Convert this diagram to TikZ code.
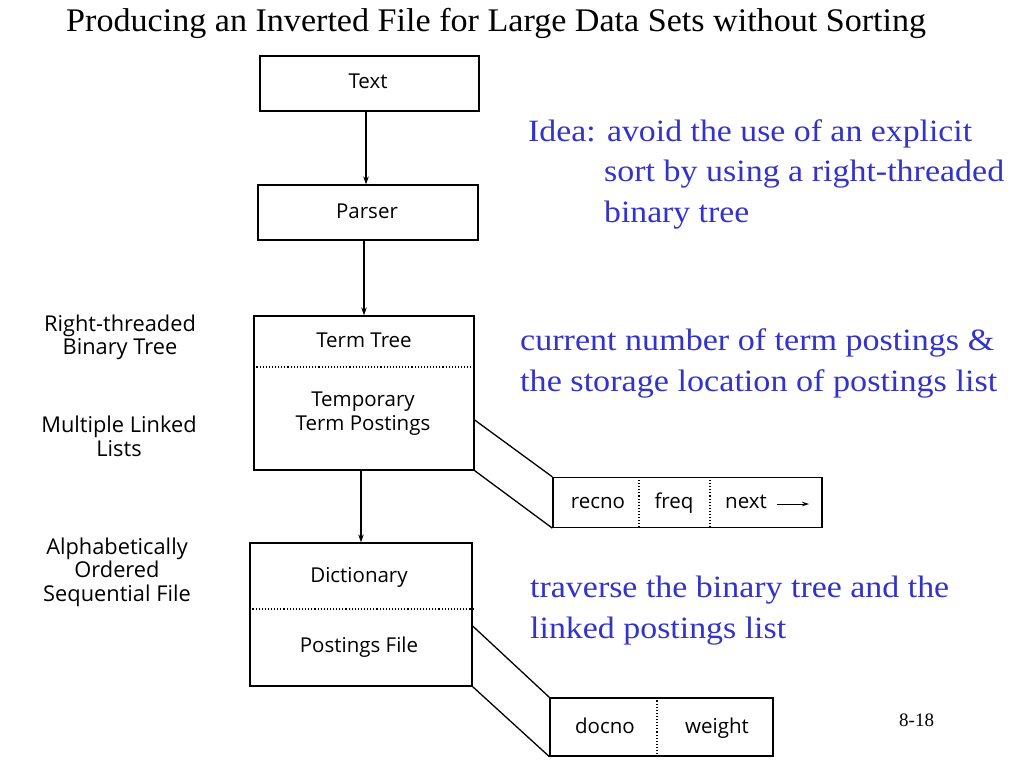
\documentclass[tikz,border=0pt]{standalone}
\usepackage{fontspec}
\usepackage{graphicx}
\setmainfont{Liberation Serif}
\newfontfamily\boxsans{Open Sans}
\usetikzlibrary{arrows.meta}
\definecolor{noteblue}{RGB}{51,51,204}
\newcommand{\notetext}[2]{\resizebox{#1pt}{\height}{\fontsize{31}{36}\selectfont #2}}
\tikzset{
  box/.style={draw, line width=1.3pt, rectangle, inner sep=0pt},
  lbl/.style={font=\boxsans\fontsize{20.5}{24}\selectfont, inner sep=0pt, align=center},
  cell/.style={font=\boxsans\fontsize{20.5}{24}\selectfont, inner sep=0pt, anchor=base},
  side/.style={font=\boxsans\fontsize{21.8}{23.5}\selectfont, inner sep=0pt, align=center},
  note/.style={text=noteblue, inner sep=0pt, anchor=base west},
  flow/.style={line width=1.1pt, -{Stealth[length=8pt,width=5.5pt]}},
  divider/.style={line width=1.1pt, dotted},
  proj/.style={line width=1.3pt}
}
\begin{document}
\begin{tikzpicture}[x=1pt,y=-1pt]
\useasboundingbox[fill=white] (0,0) rectangle (1024,768);

% title
\node[inner sep=0pt, anchor=base west] (title) at (66,32)
  {\resizebox{860pt}{\height}{\fontsize{33}{38}\selectfont Producing an Inverted File for Large Data Sets without Sorting}};

% main boxes
\node[box, minimum width=219pt, minimum height=55pt] (txt) at (369.5,83.5) {};
\node[lbl] (txtl) at (368,81) {Text};
\node[box, minimum width=220pt, minimum height=55pt] (par) at (368,212.5) {};
\node[lbl] (parl) at (367,211) {Parser};
\node[box, minimum width=220pt, minimum height=154pt] (tt) at (364,393) {};
\node[lbl] (ttl) at (364,340) {Term Tree};
\node[lbl] (tpl) at (363,414) {Temporary\\Term Postings};
\node[box, minimum width=222pt, minimum height=143pt] (dict) at (361,614.5) {};
\node[lbl] (dictl) at (359,577) {Dictionary};
\node[lbl] (pfl) at (359,647) {Postings File};

% record boxes
\node[box, minimum width=269pt, minimum height=50pt] (rec) at (687.5,502.5) {};
\node[cell] (recno) at (598,508) {recno};
\node[cell] (freq) at (674,508) {freq};
\node[cell, anchor=base west] (nxt) at (725,508) {next};
\coordinate (nxtA) at (777,504);
\coordinate (nxtB) at (809,504);
\node[box, minimum width=223pt, minimum height=58pt] (doc) at (661.5,727) {};
\node[cell] (docno) at (605,733) {docno};
\node[cell] (weight) at (717,733) {weight};

% dividers
\draw[divider] (tt.west |- 0,367) -- (tt.east |- 0,367);
\draw[divider] (dict.west |- 0,609) -- (dict.east |- 0,609);
\draw[divider] (rec.north -| 639,0) -- (rec.south -| 639,0);
\draw[divider] (rec.north -| 710,0) -- (rec.south -| 710,0);
\draw[divider] (doc.north -| 657,0) -- (doc.south -| 657,0);

% flow arrows
\draw[flow] (txt.south -| 366,0) -- (par.north -| 366,0);
\draw[flow] (par.south -| tt.north) -- (tt.north);
\draw[flow] (tt.south -| 361,0) -- (dict.north -| 361,0);
\draw[line width=1pt, -{Stealth[length=7pt,width=4.5pt]}] (nxtA) -- (nxtB);

% projections
\draw[proj] (tt.east |- 0,420) -- (rec.north west);
\draw[proj] (tt.south east) -- (rec.south west);
\draw[proj] (dict.east |- 0,626) -- (doc.north west);
\draw[proj] (dict.south east) -- (doc.south west);

% side labels
\node[side] (s1) at (120,337.5) {Right-threaded\\Binary Tree};
\node[side] (s2) at (119,436.5) {Multiple Linked\\Lists};
\node[side] (s3) at (117,572) {Alphabetically\\Ordered\\Sequential File};

% notes
\node[note] (n1) at (528,141) {\notetext{444}{Idea: avoid the use of an explicit}};
\node[note] (n2) at (604,181) {\notetext{400}{sort by using a right-threaded}};
\node[note] (n3) at (604,222) {\notetext{145}{binary tree}};
\node[note] (n4) at (520,350) {\notetext{474}{current number of term postings \&}};
\node[note] (n5) at (520,391) {\notetext{477}{the storage location of postings list}};
\node[note] (n6) at (530,597) {\notetext{419}{traverse the binary tree and the}};
\node[note] (n7) at (530,638) {\notetext{256}{linked postings list}};

% page number
\node[inner sep=0pt, anchor=base west, font=\fontsize{19}{22}\selectfont] (pg) at (899,726) {8-18};
\end{tikzpicture}
\end{document}
